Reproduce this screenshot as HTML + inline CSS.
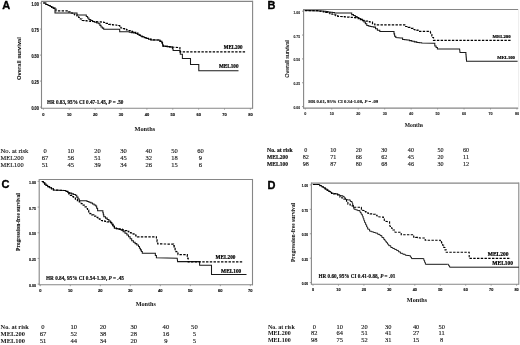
<!DOCTYPE html>
<html><head><meta charset="utf-8"><style>
html,body{margin:0;padding:0;background:#fff;}
body{width:520px;height:345px;overflow:hidden;}
svg{display:block;filter:grayscale(1);}
</style></head><body>
<svg width="520" height="345" viewBox="0 0 520 345">
<rect width="520" height="345" fill="#fff"/>
<line x1="41.50" y1="1.40" x2="252.60" y2="1.40" stroke="#868686" stroke-width="1.1"/>
<line x1="41.50" y1="108.30" x2="252.60" y2="108.30" stroke="#868686" stroke-width="1.1"/>
<line x1="41.50" y1="0.85" x2="41.50" y2="108.85" stroke="#868686" stroke-width="1.1"/>
<line x1="252.60" y1="0.85" x2="252.60" y2="108.85" stroke="#868686" stroke-width="1.1"/>
<text x="2.20" y="8.90" font-family='"Liberation Sans", sans-serif' font-size="11.0" font-weight="bold" text-anchor="start" fill="#000" stroke="#000" stroke-width="0.35" stroke-linejoin="round">A</text>
<line x1="39.90" y1="107.10" x2="41.50" y2="107.10" stroke="#868686" stroke-width="0.8"/>
<text x="31.40" y="109.86" font-family='"Liberation Sans", sans-serif' font-size="4.5" font-weight="bold" fill="#111" stroke="#111" stroke-width="0.15" textLength="7.5" lengthAdjust="spacingAndGlyphs">0.00</text>
<line x1="39.90" y1="81.10" x2="41.50" y2="81.10" stroke="#868686" stroke-width="0.8"/>
<text x="31.40" y="83.86" font-family='"Liberation Sans", sans-serif' font-size="4.5" font-weight="bold" fill="#111" stroke="#111" stroke-width="0.15" textLength="7.5" lengthAdjust="spacingAndGlyphs">0.25</text>
<line x1="39.90" y1="55.10" x2="41.50" y2="55.10" stroke="#868686" stroke-width="0.8"/>
<text x="31.40" y="57.86" font-family='"Liberation Sans", sans-serif' font-size="4.5" font-weight="bold" fill="#111" stroke="#111" stroke-width="0.15" textLength="7.5" lengthAdjust="spacingAndGlyphs">0.50</text>
<line x1="39.90" y1="29.10" x2="41.50" y2="29.10" stroke="#868686" stroke-width="0.8"/>
<text x="31.40" y="31.86" font-family='"Liberation Sans", sans-serif' font-size="4.5" font-weight="bold" fill="#111" stroke="#111" stroke-width="0.15" textLength="7.5" lengthAdjust="spacingAndGlyphs">0.75</text>
<line x1="39.90" y1="3.10" x2="41.50" y2="3.10" stroke="#868686" stroke-width="0.8"/>
<text x="31.40" y="5.86" font-family='"Liberation Sans", sans-serif' font-size="4.5" font-weight="bold" fill="#111" stroke="#111" stroke-width="0.15" textLength="7.5" lengthAdjust="spacingAndGlyphs">1.00</text>
<line x1="43.40" y1="108.30" x2="43.40" y2="109.70" stroke="#868686" stroke-width="0.8"/>
<text x="43.40" y="116.30" font-family='"Liberation Sans", sans-serif' font-size="4.0" font-weight="bold" text-anchor="middle" fill="#111" stroke="#111" stroke-width="0.15">0</text>
<line x1="69.28" y1="108.30" x2="69.28" y2="109.70" stroke="#868686" stroke-width="0.8"/>
<text x="69.28" y="116.30" font-family='"Liberation Sans", sans-serif' font-size="4.0" font-weight="bold" text-anchor="middle" fill="#111" stroke="#111" stroke-width="0.15">10</text>
<line x1="95.15" y1="108.30" x2="95.15" y2="109.70" stroke="#868686" stroke-width="0.8"/>
<text x="95.15" y="116.30" font-family='"Liberation Sans", sans-serif' font-size="4.0" font-weight="bold" text-anchor="middle" fill="#111" stroke="#111" stroke-width="0.15">20</text>
<line x1="121.03" y1="108.30" x2="121.03" y2="109.70" stroke="#868686" stroke-width="0.8"/>
<text x="121.03" y="116.30" font-family='"Liberation Sans", sans-serif' font-size="4.0" font-weight="bold" text-anchor="middle" fill="#111" stroke="#111" stroke-width="0.15">30</text>
<line x1="146.90" y1="108.30" x2="146.90" y2="109.70" stroke="#868686" stroke-width="0.8"/>
<text x="146.90" y="116.30" font-family='"Liberation Sans", sans-serif' font-size="4.0" font-weight="bold" text-anchor="middle" fill="#111" stroke="#111" stroke-width="0.15">40</text>
<line x1="172.78" y1="108.30" x2="172.78" y2="109.70" stroke="#868686" stroke-width="0.8"/>
<text x="172.78" y="116.30" font-family='"Liberation Sans", sans-serif' font-size="4.0" font-weight="bold" text-anchor="middle" fill="#111" stroke="#111" stroke-width="0.15">50</text>
<line x1="198.65" y1="108.30" x2="198.65" y2="109.70" stroke="#868686" stroke-width="0.8"/>
<text x="198.65" y="116.30" font-family='"Liberation Sans", sans-serif' font-size="4.0" font-weight="bold" text-anchor="middle" fill="#111" stroke="#111" stroke-width="0.15">60</text>
<line x1="224.53" y1="108.30" x2="224.53" y2="109.70" stroke="#868686" stroke-width="0.8"/>
<text x="224.53" y="116.30" font-family='"Liberation Sans", sans-serif' font-size="4.0" font-weight="bold" text-anchor="middle" fill="#111" stroke="#111" stroke-width="0.15">70</text>
<line x1="250.40" y1="108.30" x2="250.40" y2="109.70" stroke="#868686" stroke-width="0.8"/>
<text x="250.40" y="116.30" font-family='"Liberation Sans", sans-serif' font-size="4.0" font-weight="bold" text-anchor="middle" fill="#111" stroke="#111" stroke-width="0.15">80</text>
<text transform="translate(21.30,58.50) rotate(-90)" font-family='"Liberation Sans", sans-serif' font-size="6.0" font-weight="bold" text-anchor="middle" fill="#111" stroke="#111" stroke-width="0.05" textLength="42.8" lengthAdjust="spacingAndGlyphs">Overall survival</text>
<text x="134.50" y="131.10" font-family='"Liberation Serif", serif' font-size="6.3" font-weight="bold" text-anchor="start" fill="#111" >Months</text>
<text x="47.00" y="103.60" font-family='"Liberation Serif", serif' font-size="5.4" font-weight="bold" fill="#111" stroke="#111" stroke-width="0.18" textLength="76.4" lengthAdjust="spacingAndGlyphs">HR 0.83, 95% CI 0.47-1.45, <tspan font-style="italic">P</tspan> = .50</text>
<polyline points="43.20,3.00 46.00,3.00 46.00,4.50 48.00,4.50 48.00,5.50 50.00,5.50 50.00,6.50 51.67,6.50 51.67,7.33 53.33,7.33 53.33,8.17 55.00,8.17 55.00,9.00 55.00,13.00 77.00,13.00 77.00,15.00 85.00,15.00 86.30,15.00 86.30,16.47 87.60,16.47 87.60,17.93 88.90,17.93 88.90,19.40 90.75,19.40 90.75,20.45 92.60,20.45 92.60,21.50 94.67,21.50 94.67,22.23 96.73,22.23 96.73,22.97 98.80,22.97 98.80,23.70 99.90,23.70 99.90,25.35 101.00,25.35 101.00,27.00 102.35,27.00 102.35,28.10 103.70,28.10 103.70,29.20 118.50,29.20 119.70,29.20 119.70,31.70 127.10,31.70 129.25,31.70 129.25,32.15 131.40,32.15 131.40,32.60 133.55,32.60 133.55,33.05 135.70,33.05 135.70,33.50 137.33,33.50 137.33,34.33 138.97,34.33 138.97,35.17 140.60,35.17 140.60,36.00 142.40,36.00 142.40,36.80 144.20,36.80 144.20,37.60 146.00,37.60 146.00,38.40 148.50,38.40 148.50,39.15 151.00,39.15 151.00,39.90 158.00,40.00 160.00,40.00 160.00,41.30 162.00,41.30 162.00,42.80 162.50,42.80 162.50,44.45 163.00,44.45 163.00,46.10 165.18,46.10 165.18,46.35 167.35,46.35 167.35,46.60 169.52,46.60 169.52,46.85 171.70,46.85 171.70,47.10 172.40,47.10 172.40,48.75 173.10,48.75 173.10,50.40 179.50,50.40 179.90,50.40 179.90,52.30 180.30,52.30 180.30,54.20 182.40,54.20 182.40,58.40 190.50,58.40 190.50,64.50 198.80,64.50 198.80,70.70 238.50,70.70" fill="none" stroke="#1a1a1a" stroke-width="1.05" stroke-linejoin="miter" stroke-linecap="butt"/>
<polyline points="43.20,3.00 46.00,3.00 46.00,4.50 48.00,4.50 48.00,5.50 50.00,5.50 50.00,6.50 51.67,6.50 51.67,7.33 53.33,7.33 53.33,8.17 55.00,8.17 55.00,9.00 56.00,9.00 56.00,10.80 67.00,10.80 68.50,10.80 68.50,11.90 70.00,11.90 70.00,13.00 72.33,13.00 72.33,14.00 74.67,14.00 74.67,15.00 77.00,15.00 77.00,16.00 78.67,16.00 78.67,17.50 80.33,17.50 80.33,19.00 82.00,19.00 82.00,20.50 84.12,20.50 84.12,20.70 86.24,20.70 86.24,20.90 88.36,20.90 88.36,21.10 90.48,21.10 90.48,21.30 92.60,21.30 92.60,21.50 98.80,21.80 101.25,21.80 101.25,22.15 103.70,22.15 103.70,22.50 106.15,22.50 106.15,23.40 108.60,23.40 108.60,24.30 110.58,24.30 110.58,24.54 112.56,24.54 112.56,24.78 114.54,24.78 114.54,25.02 116.52,25.02 116.52,25.26 118.50,25.26 118.50,25.50 119.70,25.50 119.70,26.75 120.90,26.75 120.90,28.00 122.75,28.00 122.75,28.62 124.60,28.62 124.60,29.25 126.45,29.25 126.45,29.88 128.30,29.88 128.30,30.50 130.15,30.50 130.15,31.10 132.00,31.10 132.00,31.70 133.85,31.70 133.85,32.30 135.70,32.30 135.70,32.90 137.73,32.90 137.73,34.13 139.77,34.13 139.77,35.37 141.80,35.37 141.80,36.60 143.90,36.60 143.90,37.50 146.00,37.50 146.00,38.40 148.50,38.40 148.50,39.15 151.00,39.15 151.00,39.90 158.00,40.00 160.00,40.00 160.00,41.30 162.00,41.30 162.00,42.80 162.50,42.80 162.50,44.45 163.00,44.45 163.00,46.10 165.18,46.10 165.18,46.35 167.35,46.35 167.35,46.60 169.52,46.60 169.52,46.85 171.70,46.85 171.70,47.10 179.40,47.60 179.90,47.60 179.90,49.75 180.40,49.75 180.40,51.90 246.00,51.90" fill="none" stroke="#000" stroke-width="1.2" stroke-dasharray="2.4 1.35" stroke-linejoin="miter" stroke-linecap="butt"/>
<text x="223.70" y="49.20" font-family='"Liberation Serif", serif' font-size="5.7" font-weight="bold" fill="#000" stroke="#000" stroke-width="0.2" textLength="18.9" lengthAdjust="spacingAndGlyphs">MEL200</text>
<text x="219.00" y="68.00" font-family='"Liberation Serif", serif' font-size="5.7" font-weight="bold" fill="#000" stroke="#000" stroke-width="0.2" textLength="19.5" lengthAdjust="spacingAndGlyphs">MEL100</text>
<text x="0.60" y="152.90" font-family='"Liberation Serif", serif' font-size="6.5" font-weight="normal" fill="#111" stroke="#111" stroke-width="0.12" textLength="27.7" lengthAdjust="spacingAndGlyphs">No. at risk</text>
<text x="0.60" y="159.90" font-family='"Liberation Serif", serif' font-size="6.5" font-weight="normal" fill="#111" stroke="#111" stroke-width="0.12" textLength="23.1" lengthAdjust="spacingAndGlyphs">MEL200</text>
<text x="0.60" y="167.00" font-family='"Liberation Serif", serif' font-size="6.5" font-weight="normal" fill="#111" stroke="#111" stroke-width="0.12" textLength="23.1" lengthAdjust="spacingAndGlyphs">MEL100</text>
<text x="45.00" y="152.90" font-family='"Liberation Serif", serif' font-size="6.5" font-weight="normal" text-anchor="middle" fill="#111" stroke="#111" stroke-width="0.12">0</text>
<text x="70.70" y="152.90" font-family='"Liberation Serif", serif' font-size="6.5" font-weight="normal" text-anchor="middle" fill="#111" stroke="#111" stroke-width="0.12">10</text>
<text x="97.50" y="152.90" font-family='"Liberation Serif", serif' font-size="6.5" font-weight="normal" text-anchor="middle" fill="#111" stroke="#111" stroke-width="0.12">20</text>
<text x="123.40" y="152.90" font-family='"Liberation Serif", serif' font-size="6.5" font-weight="normal" text-anchor="middle" fill="#111" stroke="#111" stroke-width="0.12">30</text>
<text x="148.70" y="152.90" font-family='"Liberation Serif", serif' font-size="6.5" font-weight="normal" text-anchor="middle" fill="#111" stroke="#111" stroke-width="0.12">40</text>
<text x="174.50" y="152.90" font-family='"Liberation Serif", serif' font-size="6.5" font-weight="normal" text-anchor="middle" fill="#111" stroke="#111" stroke-width="0.12">50</text>
<text x="200.40" y="152.90" font-family='"Liberation Serif", serif' font-size="6.5" font-weight="normal" text-anchor="middle" fill="#111" stroke="#111" stroke-width="0.12">60</text>
<text x="45.00" y="159.90" font-family='"Liberation Serif", serif' font-size="6.5" font-weight="normal" text-anchor="middle" fill="#111" stroke="#111" stroke-width="0.12">67</text>
<text x="70.70" y="159.90" font-family='"Liberation Serif", serif' font-size="6.5" font-weight="normal" text-anchor="middle" fill="#111" stroke="#111" stroke-width="0.12">56</text>
<text x="97.50" y="159.90" font-family='"Liberation Serif", serif' font-size="6.5" font-weight="normal" text-anchor="middle" fill="#111" stroke="#111" stroke-width="0.12">51</text>
<text x="123.40" y="159.90" font-family='"Liberation Serif", serif' font-size="6.5" font-weight="normal" text-anchor="middle" fill="#111" stroke="#111" stroke-width="0.12">45</text>
<text x="148.70" y="159.90" font-family='"Liberation Serif", serif' font-size="6.5" font-weight="normal" text-anchor="middle" fill="#111" stroke="#111" stroke-width="0.12">32</text>
<text x="174.50" y="159.90" font-family='"Liberation Serif", serif' font-size="6.5" font-weight="normal" text-anchor="middle" fill="#111" stroke="#111" stroke-width="0.12">18</text>
<text x="200.40" y="159.90" font-family='"Liberation Serif", serif' font-size="6.5" font-weight="normal" text-anchor="middle" fill="#111" stroke="#111" stroke-width="0.12">9</text>
<text x="45.00" y="167.00" font-family='"Liberation Serif", serif' font-size="6.5" font-weight="normal" text-anchor="middle" fill="#111" stroke="#111" stroke-width="0.12">51</text>
<text x="70.70" y="167.00" font-family='"Liberation Serif", serif' font-size="6.5" font-weight="normal" text-anchor="middle" fill="#111" stroke="#111" stroke-width="0.12">45</text>
<text x="97.50" y="167.00" font-family='"Liberation Serif", serif' font-size="6.5" font-weight="normal" text-anchor="middle" fill="#111" stroke="#111" stroke-width="0.12">39</text>
<text x="123.40" y="167.00" font-family='"Liberation Serif", serif' font-size="6.5" font-weight="normal" text-anchor="middle" fill="#111" stroke="#111" stroke-width="0.12">34</text>
<text x="148.70" y="167.00" font-family='"Liberation Serif", serif' font-size="6.5" font-weight="normal" text-anchor="middle" fill="#111" stroke="#111" stroke-width="0.12">26</text>
<text x="174.50" y="167.00" font-family='"Liberation Serif", serif' font-size="6.5" font-weight="normal" text-anchor="middle" fill="#111" stroke="#111" stroke-width="0.12">15</text>
<text x="200.40" y="167.00" font-family='"Liberation Serif", serif' font-size="6.5" font-weight="normal" text-anchor="middle" fill="#111" stroke="#111" stroke-width="0.12">6</text>
<line x1="303.60" y1="9.50" x2="518.60" y2="9.50" stroke="#868686" stroke-width="1.1"/>
<line x1="303.60" y1="108.10" x2="518.60" y2="108.10" stroke="#868686" stroke-width="1.1"/>
<line x1="303.60" y1="8.95" x2="303.60" y2="108.65" stroke="#868686" stroke-width="1.1"/>
<line x1="518.60" y1="8.95" x2="518.60" y2="108.65" stroke="#eeeeee" stroke-width="1.1"/>
<text x="267.60" y="9.20" font-family='"Liberation Sans", sans-serif' font-size="11.0" font-weight="bold" text-anchor="start" fill="#000" stroke="#000" stroke-width="0.35" stroke-linejoin="round">B</text>
<line x1="302.00" y1="106.60" x2="303.60" y2="106.60" stroke="#868686" stroke-width="0.8"/>
<text x="293.50" y="109.18" font-family='"Liberation Sans", sans-serif' font-size="4.0" font-weight="bold" fill="#222" stroke="#222" stroke-width="0.1" textLength="6.5" lengthAdjust="spacingAndGlyphs">0.00</text>
<line x1="302.00" y1="82.75" x2="303.60" y2="82.75" stroke="#868686" stroke-width="0.8"/>
<text x="293.50" y="85.33" font-family='"Liberation Sans", sans-serif' font-size="4.0" font-weight="bold" fill="#222" stroke="#222" stroke-width="0.1" textLength="6.5" lengthAdjust="spacingAndGlyphs">0.25</text>
<line x1="302.00" y1="58.90" x2="303.60" y2="58.90" stroke="#868686" stroke-width="0.8"/>
<text x="293.50" y="61.48" font-family='"Liberation Sans", sans-serif' font-size="4.0" font-weight="bold" fill="#222" stroke="#222" stroke-width="0.1" textLength="6.5" lengthAdjust="spacingAndGlyphs">0.50</text>
<line x1="302.00" y1="35.05" x2="303.60" y2="35.05" stroke="#868686" stroke-width="0.8"/>
<text x="293.50" y="37.63" font-family='"Liberation Sans", sans-serif' font-size="4.0" font-weight="bold" fill="#222" stroke="#222" stroke-width="0.1" textLength="6.5" lengthAdjust="spacingAndGlyphs">0.75</text>
<line x1="302.00" y1="11.20" x2="303.60" y2="11.20" stroke="#868686" stroke-width="0.8"/>
<text x="293.50" y="13.78" font-family='"Liberation Sans", sans-serif' font-size="4.0" font-weight="bold" fill="#222" stroke="#222" stroke-width="0.1" textLength="6.5" lengthAdjust="spacingAndGlyphs">1.00</text>
<line x1="305.30" y1="108.10" x2="305.30" y2="109.50" stroke="#868686" stroke-width="0.8"/>
<text x="305.30" y="115.30" font-family='"Liberation Sans", sans-serif' font-size="3.7" font-weight="bold" text-anchor="middle" fill="#222" stroke="#222" stroke-width="0.1">0</text>
<line x1="331.76" y1="108.10" x2="331.76" y2="109.50" stroke="#868686" stroke-width="0.8"/>
<text x="331.76" y="115.30" font-family='"Liberation Sans", sans-serif' font-size="3.7" font-weight="bold" text-anchor="middle" fill="#222" stroke="#222" stroke-width="0.1">10</text>
<line x1="358.22" y1="108.10" x2="358.22" y2="109.50" stroke="#868686" stroke-width="0.8"/>
<text x="358.22" y="115.30" font-family='"Liberation Sans", sans-serif' font-size="3.7" font-weight="bold" text-anchor="middle" fill="#222" stroke="#222" stroke-width="0.1">20</text>
<line x1="384.68" y1="108.10" x2="384.68" y2="109.50" stroke="#868686" stroke-width="0.8"/>
<text x="384.68" y="115.30" font-family='"Liberation Sans", sans-serif' font-size="3.7" font-weight="bold" text-anchor="middle" fill="#222" stroke="#222" stroke-width="0.1">30</text>
<line x1="411.14" y1="108.10" x2="411.14" y2="109.50" stroke="#868686" stroke-width="0.8"/>
<text x="411.14" y="115.30" font-family='"Liberation Sans", sans-serif' font-size="3.7" font-weight="bold" text-anchor="middle" fill="#222" stroke="#222" stroke-width="0.1">40</text>
<line x1="437.60" y1="108.10" x2="437.60" y2="109.50" stroke="#868686" stroke-width="0.8"/>
<text x="437.60" y="115.30" font-family='"Liberation Sans", sans-serif' font-size="3.7" font-weight="bold" text-anchor="middle" fill="#222" stroke="#222" stroke-width="0.1">50</text>
<line x1="464.06" y1="108.10" x2="464.06" y2="109.50" stroke="#868686" stroke-width="0.8"/>
<text x="464.06" y="115.30" font-family='"Liberation Sans", sans-serif' font-size="3.7" font-weight="bold" text-anchor="middle" fill="#222" stroke="#222" stroke-width="0.1">60</text>
<line x1="490.52" y1="108.10" x2="490.52" y2="109.50" stroke="#868686" stroke-width="0.8"/>
<text x="490.52" y="115.30" font-family='"Liberation Sans", sans-serif' font-size="3.7" font-weight="bold" text-anchor="middle" fill="#222" stroke="#222" stroke-width="0.1">70</text>
<line x1="516.98" y1="108.10" x2="516.98" y2="109.50" stroke="#868686" stroke-width="0.8"/>
<text x="516.98" y="115.30" font-family='"Liberation Sans", sans-serif' font-size="3.7" font-weight="bold" text-anchor="middle" fill="#222" stroke="#222" stroke-width="0.1">80</text>
<text transform="translate(289.20,59.00) rotate(-90)" font-family='"Liberation Sans", sans-serif' font-size="5.5" font-weight="normal" text-anchor="middle" fill="#111" stroke="#111" stroke-width="0.1" textLength="37.6" lengthAdjust="spacingAndGlyphs">Overall survival</text>
<text x="404.80" y="126.80" font-family='"Liberation Serif", serif' font-size="5.64" font-weight="bold" text-anchor="start" fill="#111" >Months</text>
<text x="308.30" y="102.60" font-family='"Liberation Serif", serif' font-size="4.75" font-weight="bold" fill="#111" stroke="#111" stroke-width="0.12" textLength="69.9" lengthAdjust="spacingAndGlyphs">HR 0.61, 95% CI 0.34-1.08, <tspan font-style="italic">P</tspan> = .09</text>
<polyline points="304.80,10.60 321.50,10.90 323.67,10.90 323.67,11.23 325.83,11.23 325.83,11.57 328.00,11.57 328.00,11.90 330.17,11.90 330.17,12.23 332.33,12.23 332.33,12.57 334.50,12.57 334.50,12.90 349.50,12.90 351.70,12.90 351.70,14.60 353.50,14.60 353.50,15.55 355.30,15.55 355.30,16.50 357.10,16.50 357.10,17.45 358.90,17.45 358.90,18.40 360.70,18.40 360.70,19.35 362.50,19.35 362.50,20.30 363.93,20.30 363.93,22.00 365.37,22.00 365.37,23.70 366.80,23.70 366.80,25.40 368.40,25.40 368.40,25.95 370.00,25.95 370.00,26.50 371.85,26.50 371.85,26.80 373.70,26.80 373.70,27.10 375.55,27.10 375.55,28.65 377.40,28.65 377.40,30.20 379.80,30.20 379.80,31.40 393.40,31.40 394.00,31.40 394.00,33.85 394.60,33.85 394.60,36.30 395.80,36.30 395.80,37.50 400.80,37.90 402.60,37.90 402.60,39.40 404.75,39.40 404.75,39.70 406.90,39.70 406.90,40.00 409.35,40.00 409.35,40.60 411.80,40.60 411.80,41.20 414.30,41.20 414.30,41.85 416.80,41.85 416.80,42.50 419.25,42.50 419.25,42.80 421.70,42.80 421.70,43.10 433.00,43.30 434.80,43.30 434.80,46.00 436.10,46.00 436.10,47.50 437.40,47.50 437.40,49.00 459.60,49.00 460.00,52.50 465.70,52.50 465.90,52.50 465.90,54.70 466.10,54.70 466.10,56.90 466.30,56.90 466.30,59.10 466.50,59.10 466.50,61.30 517.60,61.30" fill="none" stroke="#1a1a1a" stroke-width="1.05" stroke-linejoin="miter" stroke-linecap="butt"/>
<polyline points="304.80,10.60 316.20,10.60 318.56,10.60 318.56,11.06 320.92,11.06 320.92,11.52 323.28,11.52 323.28,11.98 325.64,11.98 325.64,12.44 328.00,12.44 328.00,12.90 329.94,12.90 329.94,13.58 331.88,13.58 331.88,14.26 333.82,14.26 333.82,14.94 335.76,14.94 335.76,15.62 337.70,15.62 337.70,16.30 339.99,16.30 339.99,16.49 342.27,16.49 342.27,16.68 344.56,16.68 344.56,16.86 346.85,16.86 346.85,17.05 349.14,17.05 349.14,17.24 351.43,17.24 351.43,17.43 353.71,17.43 353.71,17.61 356.00,17.61 356.00,17.80 358.17,17.80 358.17,18.73 360.33,18.73 360.33,19.67 362.50,19.67 362.50,20.60 365.00,20.60 365.00,21.13 367.50,21.13 367.50,21.67 370.00,21.67 370.00,22.20 372.50,22.20 372.50,24.00 374.90,24.00 374.90,24.90 403.20,24.90 405.70,24.90 405.70,26.50 408.15,26.50 408.15,27.40 410.60,27.40 410.60,28.30 413.10,28.30 413.10,29.50 414.95,29.50 414.95,29.85 416.80,29.85 416.80,30.20 418.00,30.20 418.00,31.40 430.30,31.40 430.90,34.50 431.85,34.50 431.85,36.00 432.80,36.00 432.80,37.50 433.50,37.50 433.50,40.30 510.60,40.30" fill="none" stroke="#000" stroke-width="1.2" stroke-dasharray="2.4 1.35" stroke-linejoin="miter" stroke-linecap="butt"/>
<text x="492.60" y="38.40" font-family='"Liberation Serif", serif' font-size="5.0" font-weight="bold" fill="#000" stroke="#000" stroke-width="0.2" textLength="18.0" lengthAdjust="spacingAndGlyphs">MEL200</text>
<text x="497.30" y="59.10" font-family='"Liberation Serif", serif' font-size="5.0" font-weight="bold" fill="#000" stroke="#000" stroke-width="0.2" textLength="17.6" lengthAdjust="spacingAndGlyphs">MEL100</text>
<text x="267.10" y="152.30" font-family='"Liberation Serif", serif' font-size="6.5" font-weight="bold" fill="#111" stroke="#111" stroke-width="0.18" textLength="25.5" lengthAdjust="spacingAndGlyphs">No. at risk</text>
<text x="267.10" y="159.10" font-family='"Liberation Serif", serif' font-size="6.5" font-weight="bold" fill="#111" stroke="#111" stroke-width="0.18" textLength="20.9" lengthAdjust="spacingAndGlyphs">MEL200</text>
<text x="267.10" y="165.80" font-family='"Liberation Serif", serif' font-size="6.5" font-weight="bold" fill="#111" stroke="#111" stroke-width="0.18" textLength="20.9" lengthAdjust="spacingAndGlyphs">MEL100</text>
<text x="305.70" y="152.30" font-family='"Liberation Serif", serif' font-size="6.1" font-weight="normal" text-anchor="middle" fill="#111" stroke="#111" stroke-width="0.12">0</text>
<text x="333.20" y="152.30" font-family='"Liberation Serif", serif' font-size="6.1" font-weight="normal" text-anchor="middle" fill="#111" stroke="#111" stroke-width="0.12">10</text>
<text x="358.80" y="152.30" font-family='"Liberation Serif", serif' font-size="6.1" font-weight="normal" text-anchor="middle" fill="#111" stroke="#111" stroke-width="0.12">20</text>
<text x="384.30" y="152.30" font-family='"Liberation Serif", serif' font-size="6.1" font-weight="normal" text-anchor="middle" fill="#111" stroke="#111" stroke-width="0.12">30</text>
<text x="410.90" y="152.30" font-family='"Liberation Serif", serif' font-size="6.1" font-weight="normal" text-anchor="middle" fill="#111" stroke="#111" stroke-width="0.12">40</text>
<text x="440.60" y="152.30" font-family='"Liberation Serif", serif' font-size="6.1" font-weight="normal" text-anchor="middle" fill="#111" stroke="#111" stroke-width="0.12">50</text>
<text x="466.00" y="152.30" font-family='"Liberation Serif", serif' font-size="6.1" font-weight="normal" text-anchor="middle" fill="#111" stroke="#111" stroke-width="0.12">60</text>
<text x="305.70" y="159.10" font-family='"Liberation Serif", serif' font-size="6.1" font-weight="normal" text-anchor="middle" fill="#111" stroke="#111" stroke-width="0.12">82</text>
<text x="333.20" y="159.10" font-family='"Liberation Serif", serif' font-size="6.1" font-weight="normal" text-anchor="middle" fill="#111" stroke="#111" stroke-width="0.12">71</text>
<text x="358.80" y="159.10" font-family='"Liberation Serif", serif' font-size="6.1" font-weight="normal" text-anchor="middle" fill="#111" stroke="#111" stroke-width="0.12">66</text>
<text x="384.30" y="159.10" font-family='"Liberation Serif", serif' font-size="6.1" font-weight="normal" text-anchor="middle" fill="#111" stroke="#111" stroke-width="0.12">62</text>
<text x="410.90" y="159.10" font-family='"Liberation Serif", serif' font-size="6.1" font-weight="normal" text-anchor="middle" fill="#111" stroke="#111" stroke-width="0.12">45</text>
<text x="440.60" y="159.10" font-family='"Liberation Serif", serif' font-size="6.1" font-weight="normal" text-anchor="middle" fill="#111" stroke="#111" stroke-width="0.12">20</text>
<text x="466.00" y="159.10" font-family='"Liberation Serif", serif' font-size="6.1" font-weight="normal" text-anchor="middle" fill="#111" stroke="#111" stroke-width="0.12">11</text>
<text x="305.70" y="165.80" font-family='"Liberation Serif", serif' font-size="6.1" font-weight="normal" text-anchor="middle" fill="#111" stroke="#111" stroke-width="0.12">98</text>
<text x="333.20" y="165.80" font-family='"Liberation Serif", serif' font-size="6.1" font-weight="normal" text-anchor="middle" fill="#111" stroke="#111" stroke-width="0.12">87</text>
<text x="358.80" y="165.80" font-family='"Liberation Serif", serif' font-size="6.1" font-weight="normal" text-anchor="middle" fill="#111" stroke="#111" stroke-width="0.12">80</text>
<text x="384.30" y="165.80" font-family='"Liberation Serif", serif' font-size="6.1" font-weight="normal" text-anchor="middle" fill="#111" stroke="#111" stroke-width="0.12">68</text>
<text x="410.90" y="165.80" font-family='"Liberation Serif", serif' font-size="6.1" font-weight="normal" text-anchor="middle" fill="#111" stroke="#111" stroke-width="0.12">46</text>
<text x="440.60" y="165.80" font-family='"Liberation Serif", serif' font-size="6.1" font-weight="normal" text-anchor="middle" fill="#111" stroke="#111" stroke-width="0.12">30</text>
<text x="466.00" y="165.80" font-family='"Liberation Serif", serif' font-size="6.1" font-weight="normal" text-anchor="middle" fill="#111" stroke="#111" stroke-width="0.12">12</text>
<line x1="39.20" y1="179.50" x2="252.50" y2="179.50" stroke="#868686" stroke-width="1.1"/>
<line x1="39.20" y1="284.80" x2="252.50" y2="284.80" stroke="#868686" stroke-width="1.1"/>
<line x1="39.20" y1="178.95" x2="39.20" y2="285.35" stroke="#868686" stroke-width="1.1"/>
<line x1="252.50" y1="178.95" x2="252.50" y2="285.35" stroke="#868686" stroke-width="1.1"/>
<text x="1.60" y="188.00" font-family='"Liberation Sans", sans-serif' font-size="11.0" font-weight="bold" text-anchor="start" fill="#000" stroke="#000" stroke-width="0.35" stroke-linejoin="round">C</text>
<line x1="37.60" y1="284.10" x2="39.20" y2="284.10" stroke="#868686" stroke-width="0.8"/>
<text x="29.10" y="286.79" font-family='"Liberation Sans", sans-serif' font-size="4.3" font-weight="bold" fill="#111" stroke="#111" stroke-width="0.15" textLength="7.0" lengthAdjust="spacingAndGlyphs">0.00</text>
<line x1="37.60" y1="258.43" x2="39.20" y2="258.43" stroke="#868686" stroke-width="0.8"/>
<text x="29.10" y="261.11" font-family='"Liberation Sans", sans-serif' font-size="4.3" font-weight="bold" fill="#111" stroke="#111" stroke-width="0.15" textLength="7.0" lengthAdjust="spacingAndGlyphs">0.25</text>
<line x1="37.60" y1="232.75" x2="39.20" y2="232.75" stroke="#868686" stroke-width="0.8"/>
<text x="29.10" y="235.44" font-family='"Liberation Sans", sans-serif' font-size="4.3" font-weight="bold" fill="#111" stroke="#111" stroke-width="0.15" textLength="7.0" lengthAdjust="spacingAndGlyphs">0.50</text>
<line x1="37.60" y1="207.08" x2="39.20" y2="207.08" stroke="#868686" stroke-width="0.8"/>
<text x="29.10" y="209.76" font-family='"Liberation Sans", sans-serif' font-size="4.3" font-weight="bold" fill="#111" stroke="#111" stroke-width="0.15" textLength="7.0" lengthAdjust="spacingAndGlyphs">0.75</text>
<line x1="37.60" y1="181.40" x2="39.20" y2="181.40" stroke="#868686" stroke-width="0.8"/>
<text x="29.10" y="184.09" font-family='"Liberation Sans", sans-serif' font-size="4.3" font-weight="bold" fill="#111" stroke="#111" stroke-width="0.15" textLength="7.0" lengthAdjust="spacingAndGlyphs">1.00</text>
<line x1="40.25" y1="284.80" x2="40.25" y2="286.20" stroke="#868686" stroke-width="0.8"/>
<text x="40.25" y="292.30" font-family='"Liberation Sans", sans-serif' font-size="4.0" font-weight="bold" text-anchor="middle" fill="#111" stroke="#111" stroke-width="0.15">0</text>
<line x1="70.26" y1="284.80" x2="70.26" y2="286.20" stroke="#868686" stroke-width="0.8"/>
<text x="70.26" y="292.30" font-family='"Liberation Sans", sans-serif' font-size="4.0" font-weight="bold" text-anchor="middle" fill="#111" stroke="#111" stroke-width="0.15">10</text>
<line x1="100.27" y1="284.80" x2="100.27" y2="286.20" stroke="#868686" stroke-width="0.8"/>
<text x="100.27" y="292.30" font-family='"Liberation Sans", sans-serif' font-size="4.0" font-weight="bold" text-anchor="middle" fill="#111" stroke="#111" stroke-width="0.15">20</text>
<line x1="130.28" y1="284.80" x2="130.28" y2="286.20" stroke="#868686" stroke-width="0.8"/>
<text x="130.28" y="292.30" font-family='"Liberation Sans", sans-serif' font-size="4.0" font-weight="bold" text-anchor="middle" fill="#111" stroke="#111" stroke-width="0.15">30</text>
<line x1="160.29" y1="284.80" x2="160.29" y2="286.20" stroke="#868686" stroke-width="0.8"/>
<text x="160.29" y="292.30" font-family='"Liberation Sans", sans-serif' font-size="4.0" font-weight="bold" text-anchor="middle" fill="#111" stroke="#111" stroke-width="0.15">40</text>
<line x1="190.30" y1="284.80" x2="190.30" y2="286.20" stroke="#868686" stroke-width="0.8"/>
<text x="190.30" y="292.30" font-family='"Liberation Sans", sans-serif' font-size="4.0" font-weight="bold" text-anchor="middle" fill="#111" stroke="#111" stroke-width="0.15">50</text>
<line x1="220.31" y1="284.80" x2="220.31" y2="286.20" stroke="#868686" stroke-width="0.8"/>
<text x="220.31" y="292.30" font-family='"Liberation Sans", sans-serif' font-size="4.0" font-weight="bold" text-anchor="middle" fill="#111" stroke="#111" stroke-width="0.15">60</text>
<line x1="250.32" y1="284.80" x2="250.32" y2="286.20" stroke="#868686" stroke-width="0.8"/>
<text x="250.32" y="292.30" font-family='"Liberation Sans", sans-serif' font-size="4.0" font-weight="bold" text-anchor="middle" fill="#111" stroke="#111" stroke-width="0.15">70</text>
<text transform="translate(19.50,222.10) rotate(-90)" font-family='"Liberation Serif", serif' font-size="5.39" font-weight="bold" text-anchor="middle" fill="#111" stroke="#111" stroke-width="0.1" textLength="57.6" lengthAdjust="spacingAndGlyphs">Progression-free survival</text>
<text x="135.70" y="305.80" font-family='"Liberation Serif", serif' font-size="6.2" font-weight="bold" text-anchor="start" fill="#111" >Months</text>
<text x="46.00" y="280.20" font-family='"Liberation Serif", serif' font-size="5.6" font-weight="bold" fill="#111" stroke="#111" stroke-width="0.18" textLength="77.9" lengthAdjust="spacingAndGlyphs">HR 0.84, 95% CI 0.54-1.30, <tspan font-style="italic">P</tspan> = .45</text>
<polyline points="41.80,181.50 43.25,181.50 43.25,182.80 44.70,182.80 44.70,184.10 46.15,184.10 46.15,185.40 47.60,185.40 47.60,186.70 49.53,186.70 49.53,187.77 51.47,187.77 51.47,188.83 53.40,188.83 53.40,189.90 64.00,190.50 65.90,190.50 65.90,191.45 67.80,191.45 67.80,192.40 69.72,192.40 69.72,193.12 71.65,193.12 71.65,193.85 73.58,193.85 73.58,194.58 75.50,194.58 75.50,195.30 76.77,195.30 76.77,197.10 78.03,197.10 78.03,198.90 79.30,198.90 79.30,200.70 85.10,200.70 87.03,200.70 87.03,201.47 88.97,201.47 88.97,202.23 90.90,202.23 90.90,203.00 92.50,203.00 92.50,203.97 94.10,203.97 94.10,204.93 95.70,204.93 95.70,205.90 96.65,205.90 96.65,208.30 97.60,208.30 97.60,210.70 102.40,210.70 102.87,210.70 102.87,212.70 103.33,212.70 103.33,214.70 103.80,214.70 103.80,216.70 105.50,216.70 105.50,218.12 107.20,218.12 107.20,219.55 108.90,219.55 108.90,220.97 110.60,220.97 110.60,222.40 111.87,222.40 111.87,224.33 113.13,224.33 113.13,226.27 114.40,226.27 114.40,228.20 116.67,228.20 116.67,228.83 118.93,228.83 118.93,229.47 121.20,229.47 121.20,230.10 123.10,230.10 123.10,231.70 125.00,231.70 125.00,233.30 126.90,233.30 126.90,234.90 128.50,234.90 128.50,236.83 130.10,236.83 130.10,238.77 131.70,238.77 131.70,240.70 133.40,240.70 133.40,242.15 135.10,242.15 135.10,243.60 136.80,243.60 136.80,245.05 138.50,245.05 138.50,246.50 139.45,246.50 139.45,248.18 140.40,248.18 140.40,249.85 141.35,249.85 141.35,251.52 142.30,251.52 142.30,253.20 154.30,253.30 155.35,253.30 155.35,255.50 156.40,255.50 156.40,257.70 177.20,258.20 177.60,261.60 199.60,261.60 199.60,265.30 211.50,265.30 211.50,274.40 246.50,274.40" fill="none" stroke="#1a1a1a" stroke-width="1.05" stroke-linejoin="miter" stroke-linecap="butt"/>
<polyline points="41.80,181.50 43.25,181.50 43.25,182.80 44.70,182.80 44.70,184.10 46.15,184.10 46.15,185.40 47.60,185.40 47.60,186.70 49.53,186.70 49.53,187.77 51.47,187.77 51.47,188.83 53.40,188.83 53.40,189.90 64.00,190.50 65.90,190.50 65.90,191.45 67.80,191.45 67.80,192.40 68.75,192.40 68.75,193.85 69.70,193.85 69.70,195.30 71.62,195.30 71.62,196.64 73.54,196.64 73.54,197.98 75.46,197.98 75.46,199.32 77.38,199.32 77.38,200.66 79.30,200.66 79.30,202.00 81.23,202.00 81.23,203.60 83.17,203.60 83.17,205.20 85.10,205.20 85.10,206.80 86.30,206.80 86.30,208.50 87.50,208.50 87.50,210.20 88.70,210.20 88.70,211.90 89.90,211.90 89.90,213.60 91.83,213.60 91.83,214.87 93.77,214.87 93.77,216.13 95.70,216.13 95.70,217.40 97.85,217.40 97.85,218.95 100.00,218.95 100.00,220.50 102.40,220.50 102.40,220.97 104.80,220.97 104.80,221.45 107.20,221.45 107.20,221.93 109.60,221.93 109.60,222.40 111.20,222.40 111.20,224.33 112.80,224.33 112.80,226.27 114.40,226.27 114.40,228.20 116.33,228.20 116.33,228.53 118.27,228.53 118.27,228.87 120.20,228.87 120.20,229.20 122.35,229.20 122.35,229.90 124.50,229.90 124.50,230.60 126.65,230.60 126.65,231.30 128.80,231.30 128.80,232.00 130.54,232.00 130.54,232.96 132.28,232.96 132.28,233.92 134.02,233.92 134.02,234.88 135.76,234.88 135.76,235.84 137.50,235.84 137.50,236.80 155.80,236.80 156.43,236.80 156.43,239.17 157.07,239.17 157.07,241.53 157.70,241.53 157.70,243.90 172.90,244.10 173.55,244.10 173.55,245.65 174.20,245.65 174.20,247.20 175.10,247.20 175.10,250.20 175.95,250.20 175.95,251.65 176.80,251.65 176.80,253.10 178.00,253.10 178.00,254.60 186.90,254.60 187.33,254.60 187.33,256.50 187.77,256.50 187.77,258.40 188.20,258.40 188.20,260.30 188.20,261.80 242.90,261.80" fill="none" stroke="#000" stroke-width="1.2" stroke-dasharray="2.4 1.35" stroke-linejoin="miter" stroke-linecap="butt"/>
<text x="215.60" y="259.20" font-family='"Liberation Serif", serif' font-size="5.7" font-weight="bold" fill="#000" stroke="#000" stroke-width="0.2" textLength="19.8" lengthAdjust="spacingAndGlyphs">MEL200</text>
<text x="221.10" y="273.40" font-family='"Liberation Serif", serif' font-size="5.7" font-weight="bold" fill="#000" stroke="#000" stroke-width="0.2" textLength="20.2" lengthAdjust="spacingAndGlyphs">MEL100</text>
<text x="0.60" y="329.40" font-family='"Liberation Serif", serif' font-size="6.9" font-weight="bold" fill="#111" stroke="#111" stroke-width="0" textLength="28.3" lengthAdjust="spacingAndGlyphs">No. at risk</text>
<text x="0.60" y="336.30" font-family='"Liberation Serif", serif' font-size="6.9" font-weight="bold" fill="#111" stroke="#111" stroke-width="0" textLength="24.4" lengthAdjust="spacingAndGlyphs">MEL200</text>
<text x="0.60" y="343.20" font-family='"Liberation Serif", serif' font-size="6.9" font-weight="bold" fill="#111" stroke="#111" stroke-width="0" textLength="24.4" lengthAdjust="spacingAndGlyphs">MEL100</text>
<text x="43.00" y="329.40" font-family='"Liberation Serif", serif' font-size="6.6" font-weight="normal" text-anchor="middle" fill="#111" stroke="#111" stroke-width="0.12">0</text>
<text x="73.80" y="329.40" font-family='"Liberation Serif", serif' font-size="6.6" font-weight="normal" text-anchor="middle" fill="#111" stroke="#111" stroke-width="0.12">10</text>
<text x="103.10" y="329.40" font-family='"Liberation Serif", serif' font-size="6.6" font-weight="normal" text-anchor="middle" fill="#111" stroke="#111" stroke-width="0.12">20</text>
<text x="133.80" y="329.40" font-family='"Liberation Serif", serif' font-size="6.6" font-weight="normal" text-anchor="middle" fill="#111" stroke="#111" stroke-width="0.12">30</text>
<text x="165.90" y="329.40" font-family='"Liberation Serif", serif' font-size="6.6" font-weight="normal" text-anchor="middle" fill="#111" stroke="#111" stroke-width="0.12">40</text>
<text x="194.40" y="329.40" font-family='"Liberation Serif", serif' font-size="6.6" font-weight="normal" text-anchor="middle" fill="#111" stroke="#111" stroke-width="0.12">50</text>
<text x="43.00" y="336.30" font-family='"Liberation Serif", serif' font-size="6.6" font-weight="normal" text-anchor="middle" fill="#111" stroke="#111" stroke-width="0.12">67</text>
<text x="73.80" y="336.30" font-family='"Liberation Serif", serif' font-size="6.6" font-weight="normal" text-anchor="middle" fill="#111" stroke="#111" stroke-width="0.12">52</text>
<text x="103.10" y="336.30" font-family='"Liberation Serif", serif' font-size="6.6" font-weight="normal" text-anchor="middle" fill="#111" stroke="#111" stroke-width="0.12">38</text>
<text x="133.80" y="336.30" font-family='"Liberation Serif", serif' font-size="6.6" font-weight="normal" text-anchor="middle" fill="#111" stroke="#111" stroke-width="0.12">28</text>
<text x="165.90" y="336.30" font-family='"Liberation Serif", serif' font-size="6.6" font-weight="normal" text-anchor="middle" fill="#111" stroke="#111" stroke-width="0.12">16</text>
<text x="194.40" y="336.30" font-family='"Liberation Serif", serif' font-size="6.6" font-weight="normal" text-anchor="middle" fill="#111" stroke="#111" stroke-width="0.12">5</text>
<text x="43.00" y="343.20" font-family='"Liberation Serif", serif' font-size="6.6" font-weight="normal" text-anchor="middle" fill="#111" stroke="#111" stroke-width="0.12">51</text>
<text x="73.80" y="343.20" font-family='"Liberation Serif", serif' font-size="6.6" font-weight="normal" text-anchor="middle" fill="#111" stroke="#111" stroke-width="0.12">44</text>
<text x="103.10" y="343.20" font-family='"Liberation Serif", serif' font-size="6.6" font-weight="normal" text-anchor="middle" fill="#111" stroke="#111" stroke-width="0.12">34</text>
<text x="133.80" y="343.20" font-family='"Liberation Serif", serif' font-size="6.6" font-weight="normal" text-anchor="middle" fill="#111" stroke="#111" stroke-width="0.12">20</text>
<text x="165.90" y="343.20" font-family='"Liberation Serif", serif' font-size="6.6" font-weight="normal" text-anchor="middle" fill="#111" stroke="#111" stroke-width="0.12">9</text>
<text x="194.40" y="343.20" font-family='"Liberation Serif", serif' font-size="6.6" font-weight="normal" text-anchor="middle" fill="#111" stroke="#111" stroke-width="0.12">5</text>
<line x1="311.40" y1="183.10" x2="518.80" y2="183.10" stroke="#868686" stroke-width="1.1"/>
<line x1="311.40" y1="284.30" x2="518.80" y2="284.30" stroke="#868686" stroke-width="1.1"/>
<line x1="311.40" y1="182.55" x2="311.40" y2="284.85" stroke="#868686" stroke-width="1.1"/>
<line x1="518.80" y1="182.55" x2="518.80" y2="284.85" stroke="#868686" stroke-width="1.1"/>
<text x="267.50" y="188.60" font-family='"Liberation Sans", sans-serif' font-size="11.0" font-weight="bold" text-anchor="start" fill="#000" stroke="#000" stroke-width="0.35" stroke-linejoin="round">D</text>
<line x1="309.80" y1="282.60" x2="311.40" y2="282.60" stroke="#868686" stroke-width="0.8"/>
<text x="301.80" y="285.18" font-family='"Liberation Sans", sans-serif' font-size="4.0" font-weight="bold" fill="#111" stroke="#111" stroke-width="0.15" textLength="6.3" lengthAdjust="spacingAndGlyphs">0.00</text>
<line x1="309.80" y1="258.18" x2="311.40" y2="258.18" stroke="#868686" stroke-width="0.8"/>
<text x="301.80" y="260.76" font-family='"Liberation Sans", sans-serif' font-size="4.0" font-weight="bold" fill="#111" stroke="#111" stroke-width="0.15" textLength="6.3" lengthAdjust="spacingAndGlyphs">0.25</text>
<line x1="309.80" y1="233.75" x2="311.40" y2="233.75" stroke="#868686" stroke-width="0.8"/>
<text x="301.80" y="236.33" font-family='"Liberation Sans", sans-serif' font-size="4.0" font-weight="bold" fill="#111" stroke="#111" stroke-width="0.15" textLength="6.3" lengthAdjust="spacingAndGlyphs">0.50</text>
<line x1="309.80" y1="209.33" x2="311.40" y2="209.33" stroke="#868686" stroke-width="0.8"/>
<text x="301.80" y="211.91" font-family='"Liberation Sans", sans-serif' font-size="4.0" font-weight="bold" fill="#111" stroke="#111" stroke-width="0.15" textLength="6.3" lengthAdjust="spacingAndGlyphs">0.75</text>
<line x1="309.80" y1="184.90" x2="311.40" y2="184.90" stroke="#868686" stroke-width="0.8"/>
<text x="301.80" y="187.48" font-family='"Liberation Sans", sans-serif' font-size="4.0" font-weight="bold" fill="#111" stroke="#111" stroke-width="0.15" textLength="6.3" lengthAdjust="spacingAndGlyphs">1.00</text>
<line x1="313.00" y1="284.30" x2="313.00" y2="285.70" stroke="#868686" stroke-width="0.8"/>
<text x="313.00" y="291.20" font-family='"Liberation Sans", sans-serif' font-size="3.8" font-weight="bold" text-anchor="middle" fill="#111" stroke="#111" stroke-width="0.15">0</text>
<line x1="338.45" y1="284.30" x2="338.45" y2="285.70" stroke="#868686" stroke-width="0.8"/>
<text x="338.45" y="291.20" font-family='"Liberation Sans", sans-serif' font-size="3.8" font-weight="bold" text-anchor="middle" fill="#111" stroke="#111" stroke-width="0.15">10</text>
<line x1="363.90" y1="284.30" x2="363.90" y2="285.70" stroke="#868686" stroke-width="0.8"/>
<text x="363.90" y="291.20" font-family='"Liberation Sans", sans-serif' font-size="3.8" font-weight="bold" text-anchor="middle" fill="#111" stroke="#111" stroke-width="0.15">20</text>
<line x1="389.35" y1="284.30" x2="389.35" y2="285.70" stroke="#868686" stroke-width="0.8"/>
<text x="389.35" y="291.20" font-family='"Liberation Sans", sans-serif' font-size="3.8" font-weight="bold" text-anchor="middle" fill="#111" stroke="#111" stroke-width="0.15">30</text>
<line x1="414.80" y1="284.30" x2="414.80" y2="285.70" stroke="#868686" stroke-width="0.8"/>
<text x="414.80" y="291.20" font-family='"Liberation Sans", sans-serif' font-size="3.8" font-weight="bold" text-anchor="middle" fill="#111" stroke="#111" stroke-width="0.15">40</text>
<line x1="440.25" y1="284.30" x2="440.25" y2="285.70" stroke="#868686" stroke-width="0.8"/>
<text x="440.25" y="291.20" font-family='"Liberation Sans", sans-serif' font-size="3.8" font-weight="bold" text-anchor="middle" fill="#111" stroke="#111" stroke-width="0.15">50</text>
<line x1="465.70" y1="284.30" x2="465.70" y2="285.70" stroke="#868686" stroke-width="0.8"/>
<text x="465.70" y="291.20" font-family='"Liberation Sans", sans-serif' font-size="3.8" font-weight="bold" text-anchor="middle" fill="#111" stroke="#111" stroke-width="0.15">60</text>
<line x1="491.15" y1="284.30" x2="491.15" y2="285.70" stroke="#868686" stroke-width="0.8"/>
<text x="491.15" y="291.20" font-family='"Liberation Sans", sans-serif' font-size="3.8" font-weight="bold" text-anchor="middle" fill="#111" stroke="#111" stroke-width="0.15">70</text>
<line x1="516.60" y1="284.30" x2="516.60" y2="285.70" stroke="#868686" stroke-width="0.8"/>
<text x="516.60" y="291.20" font-family='"Liberation Sans", sans-serif' font-size="3.8" font-weight="bold" text-anchor="middle" fill="#111" stroke="#111" stroke-width="0.15">80</text>
<text transform="translate(294.80,232.50) rotate(-90)" font-family='"Liberation Serif", serif' font-size="5.5" font-weight="bold" text-anchor="middle" fill="#111" stroke="#111" stroke-width="0.05" textLength="59.0" lengthAdjust="spacingAndGlyphs">Progression-free survival</text>
<text x="406.80" y="301.90" font-family='"Liberation Serif", serif' font-size="6.2" font-weight="bold" text-anchor="start" fill="#111" >Months</text>
<text x="318.60" y="278.00" font-family='"Liberation Serif", serif' font-size="5.5" font-weight="bold" fill="#111" stroke="#111" stroke-width="0.18" textLength="76.7" lengthAdjust="spacingAndGlyphs">HR 0.60, 95% CI 0.41-0.88, <tspan font-style="italic">P</tspan> = .01</text>
<polyline points="312.90,184.50 318.40,184.50 319.80,184.50 319.80,185.50 321.63,185.50 321.63,186.67 323.47,186.67 323.47,187.83 325.30,187.83 325.30,189.00 327.05,189.00 327.05,190.05 328.80,190.05 328.80,191.10 330.15,191.10 330.15,192.15 331.50,192.15 331.50,193.20 333.60,193.20 333.60,193.55 335.70,193.55 335.70,193.90 337.85,193.90 337.85,194.80 340.00,194.80 340.00,195.70 342.80,195.70 342.80,196.40 344.20,196.40 344.20,197.90 345.60,197.90 345.60,199.40 348.40,199.90 350.25,199.90 350.25,201.50 352.10,201.50 352.10,203.10 352.70,203.10 352.70,205.13 353.30,205.13 353.30,207.17 353.90,207.17 353.90,209.20 355.75,209.20 355.75,209.90 357.60,209.90 357.60,210.60 360.00,210.60 360.00,212.40 361.15,212.40 361.15,214.25 362.30,214.25 362.30,216.10 363.07,216.10 363.07,218.27 363.83,218.27 363.83,220.43 364.60,220.43 364.60,222.60 365.63,222.60 365.63,224.80 366.67,224.80 366.67,227.00 367.70,227.00 367.70,229.20 369.60,229.20 369.60,231.20 371.53,231.20 371.53,231.83 373.47,231.83 373.47,232.47 375.40,232.47 375.40,233.10 377.70,233.10 377.70,234.35 380.00,234.35 380.00,235.60 381.90,235.60 381.90,237.55 383.80,237.55 383.80,239.50 385.02,239.50 385.02,241.05 386.25,241.05 386.25,242.60 387.48,242.60 387.48,244.15 388.70,244.15 388.70,245.70 390.80,245.70 390.80,247.50 392.70,247.50 392.70,248.47 394.60,248.47 394.60,249.43 396.50,249.43 396.50,250.40 398.45,250.40 398.45,251.85 400.40,251.85 400.40,253.30 402.80,253.30 402.80,254.25 405.20,254.25 405.20,255.20 409.20,255.60 410.35,255.60 410.35,257.10 411.50,257.10 411.50,258.60 423.10,258.60 423.87,258.60 423.87,260.50 424.63,260.50 424.63,262.40 425.40,262.40 425.40,264.30 447.60,264.30 448.60,264.30 448.60,265.75 449.60,265.75 449.60,267.20 518.90,267.20" fill="none" stroke="#1a1a1a" stroke-width="1.0" stroke-linejoin="miter" stroke-linecap="butt"/>
<polyline points="312.90,184.50 318.40,184.50 319.80,184.50 319.80,185.70 321.63,185.70 321.63,186.93 323.47,186.93 323.47,188.17 325.30,188.17 325.30,189.40 327.05,189.40 327.05,190.45 328.80,190.45 328.80,191.50 330.15,191.50 330.15,192.45 331.50,192.45 331.50,193.40 333.60,193.40 333.60,193.85 335.70,193.85 335.70,194.30 337.85,194.30 337.85,195.70 340.00,195.70 340.00,197.10 341.85,197.10 341.85,198.05 343.70,198.05 343.70,199.00 345.10,199.00 345.10,200.15 346.50,200.15 346.50,201.30 347.90,201.30 347.90,204.10 350.00,204.10 350.00,205.00 352.10,205.00 352.10,205.90 353.90,205.90 353.90,207.30 360.40,207.30 361.40,207.30 361.40,209.60 362.75,209.60 362.75,210.55 364.10,210.55 364.10,211.50 366.00,211.50 366.00,212.45 367.90,212.45 367.90,213.40 370.20,213.40 370.20,213.85 372.50,213.85 372.50,214.30 375.30,214.30 375.30,215.20 377.10,215.20 377.10,216.60 380.90,217.10 383.40,217.10 383.40,218.30 384.30,218.30 384.30,221.20 388.70,221.70 389.60,221.70 389.60,224.60 390.10,226.50 391.53,226.50 391.53,228.27 392.97,228.27 392.97,230.03 394.40,230.03 394.40,231.80 395.40,232.30 400.20,232.30 401.20,232.30 401.20,234.70 412.70,234.70 413.70,234.70 413.70,237.10 415.60,237.10 415.60,237.40 417.50,237.40 417.50,237.70 419.40,237.70 419.40,238.00 423.30,238.00 425.20,238.00 425.20,240.20 439.20,240.20 440.35,240.20 440.35,241.55 441.50,241.55 441.50,242.90 442.65,242.90 442.65,245.20 443.80,245.20 443.80,247.50 445.00,247.50 445.00,249.90 446.20,249.90 446.20,252.30 469.20,252.30 469.20,258.40 510.80,258.40" fill="none" stroke="#000" stroke-width="1.1" stroke-dasharray="2.4 1.35" stroke-linejoin="miter" stroke-linecap="butt"/>
<text x="487.70" y="255.70" font-family='"Liberation Serif", serif' font-size="5.7" font-weight="bold" fill="#000" stroke="#000" stroke-width="0.2" textLength="20.8" lengthAdjust="spacingAndGlyphs">MEL200</text>
<text x="492.30" y="264.90" font-family='"Liberation Serif", serif' font-size="5.7" font-weight="bold" fill="#000" stroke="#000" stroke-width="0.2" textLength="20.8" lengthAdjust="spacingAndGlyphs">MEL100</text>
<text x="267.90" y="328.60" font-family='"Liberation Serif", serif' font-size="6.8" font-weight="bold" fill="#111" stroke="#111" stroke-width="0" textLength="26.9" lengthAdjust="spacingAndGlyphs">No. at risk</text>
<text x="267.90" y="335.40" font-family='"Liberation Serif", serif' font-size="6.8" font-weight="bold" fill="#111" stroke="#111" stroke-width="0" textLength="22.8" lengthAdjust="spacingAndGlyphs">MEL200</text>
<text x="267.90" y="342.20" font-family='"Liberation Serif", serif' font-size="6.8" font-weight="bold" fill="#111" stroke="#111" stroke-width="0" textLength="22.8" lengthAdjust="spacingAndGlyphs">MEL100</text>
<text x="314.30" y="328.60" font-family='"Liberation Serif", serif' font-size="6.4" font-weight="normal" text-anchor="middle" fill="#111" stroke="#111" stroke-width="0.12">0</text>
<text x="339.80" y="328.60" font-family='"Liberation Serif", serif' font-size="6.4" font-weight="normal" text-anchor="middle" fill="#111" stroke="#111" stroke-width="0.12">10</text>
<text x="364.40" y="328.60" font-family='"Liberation Serif", serif' font-size="6.4" font-weight="normal" text-anchor="middle" fill="#111" stroke="#111" stroke-width="0.12">20</text>
<text x="388.30" y="328.60" font-family='"Liberation Serif", serif' font-size="6.4" font-weight="normal" text-anchor="middle" fill="#111" stroke="#111" stroke-width="0.12">30</text>
<text x="416.10" y="328.60" font-family='"Liberation Serif", serif' font-size="6.4" font-weight="normal" text-anchor="middle" fill="#111" stroke="#111" stroke-width="0.12">40</text>
<text x="441.70" y="328.60" font-family='"Liberation Serif", serif' font-size="6.4" font-weight="normal" text-anchor="middle" fill="#111" stroke="#111" stroke-width="0.12">50</text>
<text x="314.30" y="335.40" font-family='"Liberation Serif", serif' font-size="6.4" font-weight="normal" text-anchor="middle" fill="#111" stroke="#111" stroke-width="0.12">82</text>
<text x="339.80" y="335.40" font-family='"Liberation Serif", serif' font-size="6.4" font-weight="normal" text-anchor="middle" fill="#111" stroke="#111" stroke-width="0.12">64</text>
<text x="364.40" y="335.40" font-family='"Liberation Serif", serif' font-size="6.4" font-weight="normal" text-anchor="middle" fill="#111" stroke="#111" stroke-width="0.12">51</text>
<text x="388.30" y="335.40" font-family='"Liberation Serif", serif' font-size="6.4" font-weight="normal" text-anchor="middle" fill="#111" stroke="#111" stroke-width="0.12">41</text>
<text x="416.10" y="335.40" font-family='"Liberation Serif", serif' font-size="6.4" font-weight="normal" text-anchor="middle" fill="#111" stroke="#111" stroke-width="0.12">27</text>
<text x="441.70" y="335.40" font-family='"Liberation Serif", serif' font-size="6.4" font-weight="normal" text-anchor="middle" fill="#111" stroke="#111" stroke-width="0.12">11</text>
<text x="314.30" y="342.20" font-family='"Liberation Serif", serif' font-size="6.4" font-weight="normal" text-anchor="middle" fill="#111" stroke="#111" stroke-width="0.12">98</text>
<text x="339.80" y="342.20" font-family='"Liberation Serif", serif' font-size="6.4" font-weight="normal" text-anchor="middle" fill="#111" stroke="#111" stroke-width="0.12">75</text>
<text x="364.40" y="342.20" font-family='"Liberation Serif", serif' font-size="6.4" font-weight="normal" text-anchor="middle" fill="#111" stroke="#111" stroke-width="0.12">52</text>
<text x="388.30" y="342.20" font-family='"Liberation Serif", serif' font-size="6.4" font-weight="normal" text-anchor="middle" fill="#111" stroke="#111" stroke-width="0.12">31</text>
<text x="416.10" y="342.20" font-family='"Liberation Serif", serif' font-size="6.4" font-weight="normal" text-anchor="middle" fill="#111" stroke="#111" stroke-width="0.12">15</text>
<text x="441.70" y="342.20" font-family='"Liberation Serif", serif' font-size="6.4" font-weight="normal" text-anchor="middle" fill="#111" stroke="#111" stroke-width="0.12">8</text>
</svg>
</body></html>
